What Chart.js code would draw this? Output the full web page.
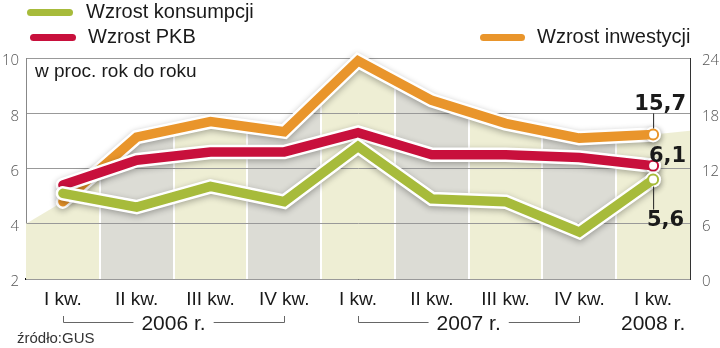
<!DOCTYPE html>
<html lang="pl">
<head>
<meta charset="utf-8">
<title>Wzrost PKB, konsumpcji i inwestycji</title>
<script src="https://cdn.jsdelivr.net/npm/chart.js@4.4.1/dist/chart.umd.min.js"></script>
<style>
  html, body { margin: 0; padding: 0; background: #fff; }
  #wrap { position: relative; width: 720px; height: 348px; font-family: "Liberation Sans", Arial, sans-serif; color: #1a1a1a; }
  #wrap canvas { position: absolute; left: 0; top: 0; }
  .txt { position: absolute; white-space: nowrap; line-height: 1; }
  .key { font-size: 20px; }
  .swatch { position: absolute; height: 7px; border-radius: 4px; }
</style>
</head>
<body>
<div id="wrap">
  <canvas id="chart" width="720" height="348"></canvas>
  <div class="swatch" style="left:27px; top:9px; width:46px; background:#a7bb3b"></div>
  <div class="txt key" style="left:86px; top:1px">Wzrost konsumpcji</div>
  <div class="swatch" style="left:30px; top:34px; width:46px; background:#c8103c"></div>
  <div class="txt key" style="left:88px; top:26px">Wzrost PKB</div>
  <div class="swatch" style="left:480px; top:34px; width:45px; background:#e9952b"></div>
  <div class="txt key" style="left:537px; top:26px">Wzrost inwestycji</div>
  <div class="txt" style="left:35px; top:61px; font-size:19px">w proc. rok do roku</div>
  <div class="txt" style="left:17px; top:330px; font-size:15px; color:#333">źródło:GUS</div>
</div>
<script>
// quarters on the x axis
const quarters = ['I kw.', 'II kw.', 'III kw.', 'IV kw.', 'I kw.', 'II kw.', 'III kw.', 'IV kw.', 'I kw.'];
const yearLabels = ['2006 r.', '2007 r.', '2008 r.'];
const yearFirst = [0, 4, 8];
const yearLast = [3, 7, 8];

// % y/y, left axis
const consumption = [5.1, 4.6, 5.35, 4.8, 6.8, 4.9, 4.8, 3.7, 5.6];
const gdp = [5.4, 6.3, 6.6, 6.6, 7.3, 6.5, 6.5, 6.4, 6.1];
// % y/y, right axis
const investment = [8.4, 15.4, 17.1, 16.0, 23.7, 19.4, 16.9, 15.3, 15.7];
// shaded area runs out to both edges of the plot
const areaEdges = [6.0, 16.1];

const leftTicks = [2, 4, 6, 8, 10];
const rightTicks = [0, 6, 12, 18, 24];

const GREEN = '#a7bb3b', RED = '#c8103c', ORANGE = '#e9952b';
const BEIGE = '#eeeed4', GREY = '#dcdcd5';

const fmt = v => v.toFixed(1).replace('.', ',');
const pts = arr => arr.map((v, i) => ({ x: i, y: v }));
const lastOnly = r => ctx => (ctx.dataIndex === quarters.length - 1 ? r : 0);

// alternating quarter columns, separated by thin white seams
function bandFill(context) {
  const chart = context.chart;
  const area = chart.chartArea;
  if (!area) return BEIGE;
  const xs = chart.scales.x;
  const w = area.right - area.left;
  const g = chart.ctx.createLinearGradient(area.left, 0, area.right, 0);
  const pos = v => Math.min(1, Math.max(0, (xs.getPixelForValue(v) - area.left) / w));
  const seam = 1 / w;
  quarters.forEach((q, i) => {
    const c = i % 2 ? GREY : BEIGE;
    const a = pos(i - 0.5), b = pos(i + 0.5);
    if (i > 0) { g.addColorStop(a + seam, '#fff'); g.addColorStop(a + seam, c); }
    else g.addColorStop(0, c);
    if (i < quarters.length - 1) { g.addColorStop(b - seam, c); g.addColorStop(b - seam, '#fff'); }
    else g.addColorStop(1, c);
  });
  return g;
}

function lineSet(data, color, axis, order, label) {
  return {
    data: pts(data), yAxisID: axis, order: order,
    borderColor: color, borderWidth: 9.5, borderJoinStyle: 'miter', borderCapStyle: 'round',
    pointRadius: lastOnly(5), pointBackgroundColor: '#fff', pointBorderColor: color, pointBorderWidth: 2,
    clip: false, label: label
  };
}
function haloSet(data, axis, order) {
  return {
    data: pts(data), yAxisID: axis, order: order, halo: true,
    borderColor: '#fff', borderWidth: 14.5, borderJoinStyle: 'miter', borderCapStyle: 'round',
    pointRadius: lastOnly(8), pointBackgroundColor: '#fff', pointBorderWidth: 0,
    clip: false
  };
}

const areaData = [{ x: -0.5, y: areaEdges[0] }].concat(pts(investment), [{ x: quarters.length - 0.5, y: areaEdges[1] }]);

// shadows under the white halos, grid redrawn over the shaded area
const decor = {
  id: 'decor',
  beforeDatasetDraw(chart, args) {
    if (chart.data.datasets[args.index].halo) {
      const ctx = chart.ctx;
      ctx.save();
      ctx.shadowColor = 'rgba(0,0,0,0.3)';
      ctx.shadowBlur = 6;
      ctx.shadowOffsetY = 2;
    }
  },
  afterDatasetDraw(chart, args) {
    const ds = chart.data.datasets[args.index];
    if (ds.halo) chart.ctx.restore();
    if (ds.area) chart.scales.y.drawGrid(chart.chartArea);
  },
  afterDatasetsDraw(chart) {
    const ctx = chart.ctx;
    ctx.save();
    // end values with short leader lines
    chart.data.datasets.forEach((ds, i) => {
      if (!ds.valueLabel) return;
      const p = chart.getDatasetMeta(i).data[quarters.length - 1];
      const v = ds.data[quarters.length - 1].y;
      const o = ds.valueLabel;
      if (o.lead) {
        ctx.strokeStyle = '#222';
        ctx.lineWidth = 1;
        ctx.beginPath();
        ctx.moveTo(p.x + 0.5, p.y + o.lead[0]);
        ctx.lineTo(p.x + 0.5, p.y + o.lead[1]);
        ctx.stroke();
      }
      ctx.font = 'bold 21px "DejaVu Sans", sans-serif';
      ctx.fillStyle = '#1a1a1a';
      ctx.textAlign = 'right';
      ctx.textBaseline = 'alphabetic';
      ctx.fillText(fmt(v), p.x + o.dx, p.y + o.dy);
    });
    ctx.restore();
  },
  afterDraw(chart) {
    // year groups under the quarter labels
    const ctx = chart.ctx, xs = chart.scales.x;
    ctx.save();
    ctx.font = '21px "Liberation Sans", Arial, sans-serif';
    ctx.fillStyle = '#1a1a1a';
    ctx.textAlign = 'center';
    ctx.textBaseline = 'alphabetic';
    ctx.strokeStyle = '#666';
    ctx.lineWidth = 1;
    const baseY = 330, lineY = 322.5;
    yearLabels.forEach((label, k) => {
      const x0 = xs.getPixelForValue(yearFirst[k]);
      const x1 = xs.getPixelForValue(yearLast[k]);
      const cx = (x0 + x1) / 2;
      ctx.fillText(label, cx, baseY);
      if (yearLast[k] > yearFirst[k]) {
        const half = ctx.measureText(label).width / 2 + 8;
        ctx.beginPath();
        ctx.moveTo(Math.round(x0) + 0.5, 316);
        ctx.lineTo(Math.round(x0) + 0.5, lineY);
        ctx.lineTo(cx - half, lineY);
        ctx.moveTo(cx + half, lineY);
        ctx.lineTo(Math.round(x1) + 0.5, lineY);
        ctx.lineTo(Math.round(x1) + 0.5, 316);
        ctx.stroke();
      }
    });
    ctx.restore();
  }
};

const green = lineSet(consumption, GREEN, 'y', 1, 'Wzrost konsumpcji');
green.valueLabel = { dx: 31, dy: 46, lead: [7, 30] };
const red = lineSet(gdp, RED, 'y', 3, 'Wzrost PKB');
red.valueLabel = { dx: 33, dy: -4 };
const orange = lineSet(investment, ORANGE, 'y1', 5, 'Wzrost inwestycji');
orange.valueLabel = { dx: 33, dy: -24, lead: [-21, -6] };

new Chart(document.getElementById('chart'), {
  type: 'line',
  data: {
    datasets: [
      green, haloSet(consumption, 'y', 2),
      red, haloSet(gdp, 'y', 4),
      orange, haloSet(investment, 'y1', 6),
      {
        data: areaData, yAxisID: 'y1', order: 7, area: true,
        fill: 'origin', backgroundColor: bandFill,
        borderWidth: 0, pointRadius: 0
      }
    ]
  },
  options: {
    responsive: false,
    animation: false,
    events: [],
    layout: { padding: { top: 58, left: 0, right: 0, bottom: 0 } },
    plugins: { legend: { display: false }, tooltip: { enabled: false } },
    scales: {
      x: {
        type: 'linear',
        min: -0.5,
        max: quarters.length - 0.5,
        afterBuildTicks: axis => { axis.ticks = quarters.map((q, i) => ({ value: i })); },
        afterFit: axis => { axis.height = 69; },
        ticks: {
          autoSkip: false,
          maxRotation: 0,
          padding: 9,
          color: '#1a1a1a',
          font: { family: '"Liberation Sans", Arial, sans-serif', size: 19 },
          callback: v => quarters[v]
        },
        grid: { display: false, drawTicks: false },
        border: { display: true, color: '#111', width: 2 }
      },
      y: {
        position: 'left',
        min: 2, max: 10,
        afterBuildTicks: axis => { axis.ticks = leftTicks.map(v => ({ value: v })); },
        afterFit: axis => { axis.width = 26; },
        ticks: {
          padding: 7,
          labelOffset: 3,
          color: '#555',
          font: { family: '"Open Sans", sans-serif', size: 15, weight: '300' }
        },
        grid: { color: '#999', lineWidth: 1, drawTicks: false },
        border: { display: true, color: '#888', width: 1 }
      },
      y1: {
        position: 'right',
        min: 0, max: 24,
        afterBuildTicks: axis => { axis.ticks = rightTicks.map(v => ({ value: v })); },
        afterFit: axis => { axis.width = 30; },
        ticks: {
          padding: 12,
          labelOffset: 3,
          color: '#555',
          font: { family: '"Open Sans", sans-serif', size: 15, weight: '300' }
        },
        grid: { display: false, drawTicks: false },
        border: { display: true, color: '#333', width: 1 }
      }
    }
  },
  plugins: [decor]
});
</script>
</body>
</html>
